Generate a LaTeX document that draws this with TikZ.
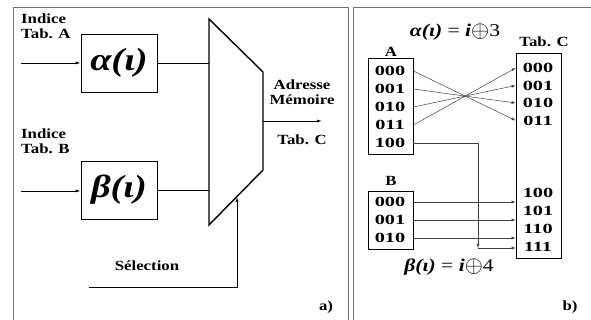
\documentclass[tikz,border=0pt]{standalone}
\usepackage{fontspec}
\setmainfont{Liberation Serif}[FakeStretch=1.2]
\usetikzlibrary{arrows.meta}
\begin{document}
\begin{tikzpicture}[x=1pt,y=-1pt,
    lbl/.style={font=\fontsize{14}{15}\selectfont\bfseries,align=left,inner sep=0pt},
    bit/.style={font=\fontsize{14}{15}\selectfont\bfseries\addfontfeatures{FakeStretch=1.45},inner sep=0pt},
    fbox/.style={draw,line width=0.8pt,minimum width=76pt,minimum height=58pt,inner sep=0pt,font=\fontsize{32}{34}\selectfont\bfseries\itshape},
    tbox/.style={draw,line width=0.8pt,minimum width=45pt,inner sep=0pt},
    wire/.style={line width=0.8pt},
    thin/.style={line width=0.5pt,black!75,-{Latex[length=4pt,width=3pt]}}]
    \useasboundingbox (0,0) rectangle (591,320);
    % frames
    \draw[black!55,line width=0.8pt] (13,320) -- (13,7) -- (348,7) -- (348,320);
    \draw[black!55,line width=0.8pt] (353,320) -- (353,7) -- (591,7);
    % a) multiplexer
    \coordinate (mtl) at (209,19);
    \coordinate (mtr) at (263,72);
    \coordinate (mbr) at (263,170);
    \coordinate (mbl) at (209,225);
    \draw[line width=1.4pt,line join=miter] (mtl) -- (mtr) -- (mbr) -- (mbl) -- cycle;
    \node[fbox] (alpha) at (119,63) {α(ι)};
    \node[fbox] (beta) at (119,190) {β(ι)};
    \node[lbl,anchor=north west] (idxA) at (21,14) {Indice\\Tab. A};
    \node[lbl,anchor=north west] (idxB) at (21,129) {Indice\\Tab. B};
    \coordinate (inA) at (21,63);
    \coordinate (inB) at (21,191);
    \draw[wire,-{Latex[length=5pt,width=3pt]}] (inA) -- (alpha);
    \draw[wire,-{Latex[length=5pt,width=3pt]}] (inB) -- (beta.west |- inB);
    \draw[wire] (alpha) -- (alpha -| mtl);
    \draw[wire] (beta) -- (beta -| mtl);
    \coordinate (out) at (263,121);
    \coordinate (outend) at (322,121);
    \draw[wire,-{Latex[length=5pt,width=3pt]}] (out) -- (outend);
    \node[lbl,align=center] (adr) at (302,92) {Adresse\\Mémoire};
    \node[lbl] (tabCa) at (302,140) {Tab. C};
    \node[lbl] (sel) at (147,266) {Sélection};
    \coordinate (selst) at (89,287);
    \coordinate (selin) at (237,197);
    \draw[wire,-{Latex[length=5pt,width=3pt]}] (selst) -| (selin);
    \node[lbl] (pa) at (326,307) {a)};
    % b) tables
    \node[font=\fontsize{18}{20}\selectfont] (fa) at (455,32) {\textbf{\itshape α(ι)} = \textbf{\itshape i}\raisebox{-1pt}{\scalebox{1.35}{$\oplus$}}3};
    \node[font=\fontsize{18}{20}\selectfont] (fb) at (449,267) {\textbf{\itshape β(ι)} = \textbf{\itshape i}\raisebox{-1pt}{\scalebox{1.35}{$\oplus$}}4};
    \node[lbl] (tabC) at (544,42) {Tab. C};
    \node[lbl] (labA) at (391,52) {A};
    \node[lbl] (labB) at (391,181) {B};
    \node[tbox,minimum height=96pt] (A) at (390.5,106) {};
    \node[tbox,minimum height=58pt] (B) at (390.5,220) {};
    \node[tbox,minimum height=205pt] (C) at (538.5,155.5) {};
    \foreach \v [count=\k from 0] in {000,001,010,011,100}
        \node[bit] (a\k) at (390,{71+18*\k}) {\v};
    \foreach \v [count=\k from 0] in {000,001,010}
        \node[bit] (b\k) at (390,{202+18*\k}) {\v};
    \foreach \v [count=\k from 0] in {000,001,010,011}
        \node[bit] (c\k) at (538,{68+17.5*\k}) {\v};
    \foreach \v [count=\k from 4] in {100,101,110,111}
        \node[bit] (c\k) at (538,{193+18*(\k-4)}) {\v};
    % alpha(i) = i xor 3
    \foreach \s/\t in {0/3,1/2,2/1,3/0}
        \draw[thin] (a\s -| A.east) -- (c\t -| C.west);
    % beta(i) = i xor 4
    \foreach \s/\t in {0/4,1/5,2/6}
        \draw[thin] (b\s -| A.east) -- (b\s -| C.west);
    \coordinate (bend) at (478,248);
    \draw[thin] (a4 -| A.east) -| (bend);
    \draw[thin] (bend) -- (bend -| C.west);
    \node[lbl] (pb) at (570,307) {b)};
\end{tikzpicture}
\end{document}
